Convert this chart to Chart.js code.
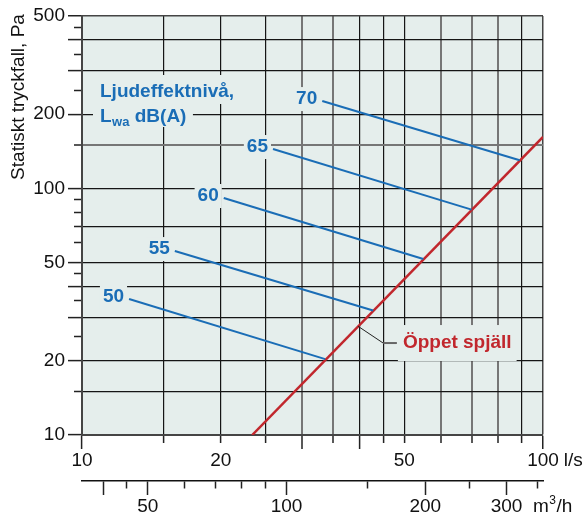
<!DOCTYPE html>
<html><head><meta charset="utf-8">
<script src="https://cdn.jsdelivr.net/npm/chart.js@4.4.1/dist/chart.umd.min.js"></script>
<style>html,body{margin:0;padding:0;background:#fff}#wrap{width:587px;height:515px}</style>
</head><body><div id="wrap"><canvas id="c" width="587" height="515"></canvas></div>
<script>
// ---- data ----
const flowTicks = [10,15,20,25,30,35,40,45,50,60,70,80,90,100];      // l/s
const flowLongTicks = [10,30,40,100];
const flowLabelled = [10,20,50,100];
const flowGrayGrid = [30,35,60,70,80];
const m3hTicks = [40,45,50,60,70,80,90,100,150,200,250,300,350];    // m3/h
const m3hLongTicks = [40,50,100,200,300];
const m3hLabelled = [50,100,200,300];
const pressureTicks = [10,15,20,25,30,35,40,45,50,60,70,80,90,100,150,200,250,300,350,400,450,500]; // Pa
const pressureLongTicks = [10,20,30,40,50,100,200,300,400,500];
const pressureLabelled = [10,20,50,100,200,500];
const pressureGrid = [15,20,30,40,50,70,100,150,200,300,400];
const pressureGrayGrid = [150];

const soundLevels = ['50','55','60','65','70'];
const soundStartFlow = [12.65, 15.9, 20.3, 25.96, 33.2];
const soundStartPressure = [35.6, 55.7, 91.4, 144.4, 226];
const soundEndFlow = [33.7, 42.8, 55, 70, 89];
const soundEndPressure = [20.3, 32, 51.7, 82, 130];

const damperFlow = [23.4, 100];
const damperPressure = [10, 161.6];
const damperLabel = 'Öppet spjäll';

const leaderFlow = [39.7, 45.0];
const leaderPressure = [27.6, 23.6];
const leaderTickFlow = [45.0, 48.2];
const leaderTickPressure = [23.6, 23.6];

const titleLine1 = 'Ljudeffektnivå,';
const yTitle = 'Statiskt tryckfall, Pa';

// ---- styles ----
const FONT = '"Liberation Sans", Arial, Helvetica, sans-serif';
const PLOT_BG = '#e5eeec';
const BLUE = '#1a6db6';
const RED = '#c1272d';
const BLACK = '#151515';
const GRAY = '#767676';
const EDGE = '#454545';

Chart.defaults.font.family = FONT;
Chart.defaults.font.size = 19;
Chart.defaults.color = '#111';

const pts = (xs, ys) => xs.map((x, i) => ({x, y: ys[i]}));
const datasets = [];
soundLevels.forEach((lab, i) => {
  datasets.push({label: lab, data: pts([soundStartFlow[i], soundEndFlow[i]], [soundStartPressure[i], soundEndPressure[i]]),
    borderColor: BLUE, borderWidth: 2, pointRadius: 0, xAxisID: 'x', yAxisID: 'y'});
});
datasets.push({label: 'leader', data: pts(leaderFlow, leaderPressure), borderColor: '#222', borderWidth: 1, pointRadius: 0, xAxisID: 'x', yAxisID: 'y'});
datasets.push({label: 'leaderTick', data: pts(leaderTickFlow, leaderTickPressure), borderColor: '#666', borderWidth: 2, pointRadius: 0, xAxisID: 'x', yAxisID: 'y'});
datasets.push({label: damperLabel, data: pts(damperFlow, damperPressure), borderColor: RED, borderWidth: 2.5, pointRadius: 0, xAxisID: 'x', yAxisID: 'y'});

const setTicks = (vals) => (s) => { s.ticks = vals.map(v => ({value: v})); };
const val = (c) => c.tick ? c.tick.value : null;

const bgPlugin = {
  id: 'bg',
  beforeDraw(chart) {
    const {ctx, chartArea: a} = chart;
    ctx.save(); ctx.fillStyle = PLOT_BG; ctx.fillRect(a.left, a.top, a.right - a.left, a.bottom - a.top); ctx.restore();
  }
};

function boxText(ctx, text, x, y, align, color, padX, halfH) {
  const w = ctx.measureText(text).width;
  const left = align === 'right' ? x - w : x;
  ctx.fillStyle = PLOT_BG;
  ctx.fillRect(left - padX, y - halfH, w + 2 * padX, 2 * halfH);
  ctx.fillStyle = color; ctx.textAlign = align; ctx.textBaseline = 'middle';
  ctx.fillText(text, x, y);
}

const textPlugin = {
  id: 'texts',
  beforeDatasetsDraw(chart) {
    const {ctx} = chart; const xs = chart.scales.x, ys = chart.scales.y;
    ctx.save();
    ctx.font = 'bold 19px ' + FONT;
    soundLevels.forEach((lab, i) => {
      const px = xs.getPixelForValue(soundStartFlow[i]) - 5;
      const py = ys.getPixelForValue(soundStartPressure[i]) - 2;
      boxText(ctx, lab, px, py, 'right', BLUE, 3, 12);
    });
    // damper label
    const lx = xs.getPixelForValue(leaderTickFlow[1]) + 6;
    const ly = ys.getPixelForValue(leaderTickPressure[1]);
    boxText(ctx, damperLabel, lx, ly, 'left', RED, 5, 18);
    // sound power title
    const tx = xs.left + 18, ty = ys.top + 81;
    ctx.font = 'bold 19px ' + FONT;
    const w1 = ctx.measureText(titleLine1).width;
    ctx.fillStyle = PLOT_BG;
    ctx.fillRect(tx - 6, ty - 22, w1 + 12, 29);
    ctx.font = 'bold 19px ' + FONT;
    const wL = ctx.measureText('L').width;
    const wRest = ctx.measureText(' dB(A)').width;
    ctx.font = 'bold 13px ' + FONT;
    const wSub = ctx.measureText('wa').width;
    ctx.fillStyle = PLOT_BG;
    ctx.fillRect(tx - 7, ty + 7, wL + wSub + wRest + 14, 23);
    ctx.fillStyle = BLUE; ctx.textAlign = 'left'; ctx.textBaseline = 'alphabetic';
    ctx.font = 'bold 19px ' + FONT;
    ctx.fillText(titleLine1, tx, ty);
    const ty2 = ty + 25;
    ctx.fillText('L', tx, ty2);
    ctx.font = 'bold 13px ' + FONT;
    ctx.fillText('wa', tx + wL + 0.5, ty2 + 4);
    ctx.font = 'bold 19px ' + FONT;
    ctx.fillText(' dB(A)', tx + wL + wSub + 0.5, ty2);
    ctx.restore();
  },
  afterDraw(chart) {
    const {ctx} = chart; const xs = chart.scales.x, x2 = chart.scales.x2, ys = chart.scales.y;
    ctx.save();
    ctx.fillStyle = '#111';
    ctx.font = '19px ' + FONT;
    // l/s unit after the 100 label
    ctx.textBaseline = 'middle'; ctx.textAlign = 'left';
    const w100 = ctx.measureText('100').width;
    const ux = xs.getPixelForValue(100) + w100 / 2 + 5;
    const uy = xs.top + 14 + 11.4;
    ctx.fillText('l/s', ux, uy);
    // m3/h unit
    const mx = x2.right - 10, my = x2.top + 14 + 11.4;
    ctx.fillText('m', mx, my);
    const wm = ctx.measureText('m').width;
    ctx.font = '12px ' + FONT;
    ctx.fillText('3', mx + wm + 0.5, my - 6);
    const w3 = ctx.measureText('3').width;
    ctx.font = '19px ' + FONT;
    ctx.fillText('/h', mx + wm + w3 + 1, my);
    // y title
    ctx.translate(24, ys.top + 81);
    ctx.rotate(-Math.PI / 2);
    ctx.textAlign = 'center'; ctx.textBaseline = 'alphabetic';
    ctx.fillText(yTitle, 0, 0);
    ctx.restore();
  }
};

new Chart(document.getElementById('c'), {
  type: 'line',
  data: {datasets},
  options: {
    responsive: false, animation: false, devicePixelRatio: 1,
    layout: {padding: {left: 0, right: 44, top: 16, bottom: 0}},
    plugins: {legend: {display: false}, tooltip: {enabled: false}},
    elements: {line: {tension: 0}, point: {radius: 0}},
    scales: {
      x: {
        type: 'logarithmic', position: 'bottom', min: 10, max: 100, weight: 0,
        afterBuildTicks: setTicks(flowTicks),
        afterFit: (s) => { s.height = 46; },
        border: {display: true, color: EDGE, width: 2},
        grid: {
          drawOnChartArea: true, drawTicks: true, tickLength: 14,
          color: (c) => { const v = val(c); if (v === 10) return 'rgba(0,0,0,0)'; if (v === 100) return EDGE; return flowGrayGrid.includes(v) ? GRAY : BLACK; },
          lineWidth: (c) => { const v = val(c); if (v === 100) return 1.5; return flowGrayGrid.includes(v) ? 2 : 1.2; },
          tickColor: '#222', tickWidth: 1.5,
          tickBorderDash: (c) => flowLongTicks.includes(val(c)) ? [] : [7, 100]
        },
        ticks: {autoSkip: false, maxRotation: 0, padding: 0,
          callback: (v) => flowLabelled.includes(v) ? String(v) : ''}
      },
      x2: {
        type: 'logarithmic', position: 'bottom', min: 36, max: 360, weight: 1,
        afterBuildTicks: setTicks(m3hTicks),
        afterFit: (s) => { s.height = 34; },
        border: {display: true, color: '#111', width: 1.5},
        grid: {
          drawOnChartArea: false, drawTicks: true, tickLength: 14,
          tickColor: '#222', tickWidth: 1.5,
          tickBorderDash: (c) => m3hLongTicks.includes(val(c)) ? [] : [7, 100]
        },
        ticks: {autoSkip: false, maxRotation: 0, padding: 0,
          callback: (v) => m3hLabelled.includes(v) ? String(v) : ''}
      },
      y: {
        type: 'logarithmic', position: 'left', min: 10, max: 500,
        afterBuildTicks: setTicks(pressureTicks),
        afterFit: (s) => { s.width = 82; },
        border: {display: true, color: EDGE, width: 2},
        grid: {
          drawOnChartArea: true, drawTicks: true, tickLength: 14,
          color: (c) => { const v = val(c); if (v === 500) return EDGE; if (!pressureGrid.includes(v)) return 'rgba(0,0,0,0)'; return pressureGrayGrid.includes(v) ? GRAY : BLACK; },
          lineWidth: (c) => { const v = val(c); if (v === 500) return 1.5; return pressureGrayGrid.includes(v) ? 2 : 1.2; },
          tickColor: '#222', tickWidth: 1.5,
          tickBorderDash: (c) => pressureLongTicks.includes(val(c)) ? [] : [0, 6, 100]
        },
        ticks: {autoSkip: false, padding: 3,
          callback: (v) => pressureLabelled.includes(v) ? String(v) : ''}
      }
    }
  },
  plugins: [bgPlugin, textPlugin]
});
</script>
</body></html>
